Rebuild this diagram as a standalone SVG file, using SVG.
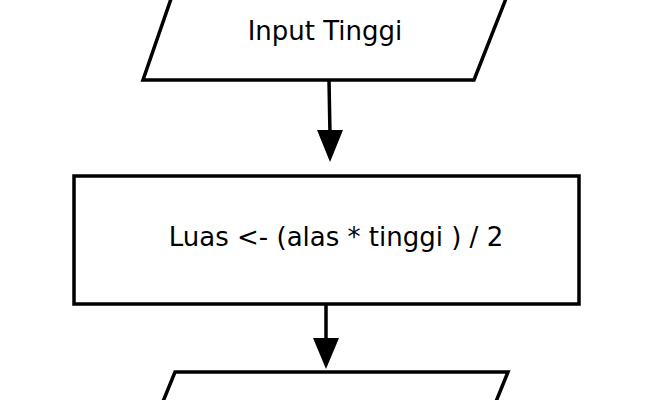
<svg xmlns="http://www.w3.org/2000/svg" width="650" height="400" viewBox="0 0 650 400">
<defs>
<style>
.s{fill:#fff;stroke:#000;stroke-width:3.5}
.t{font-family:"DejaVu Sans",sans-serif;font-size:26px;fill:#000;text-anchor:middle}
.c{stroke:#000;stroke-width:3.5;fill:none}
</style>
</defs>
<rect width="650" height="400" fill="#fff"/>
<g id="input">
<polygon class="s" points="172,-4 507,-4 474,80 143,80"/>
<text class="t" x="325" y="40">Input Tinggi</text>
</g>
<g id="proses">
<rect class="s" x="74" y="176" width="505" height="128"/>
<text class="t" x="336" y="246">Luas &lt;- (alas * tinggi ) / 2</text>
</g>
<g id="output">
<polygon class="s" points="175,372 508,372 495,404 162,404"/>
</g>
<g id="connectors">
<line class="c" x1="329" y1="80" x2="330" y2="135"/>
<polygon points="317,130 343,130 330,162" fill="#000"/>
<line class="c" x1="326" y1="304" x2="326" y2="342"/>
<polygon points="313,338 339,338 326,369" fill="#000"/>
</g>
</svg>
